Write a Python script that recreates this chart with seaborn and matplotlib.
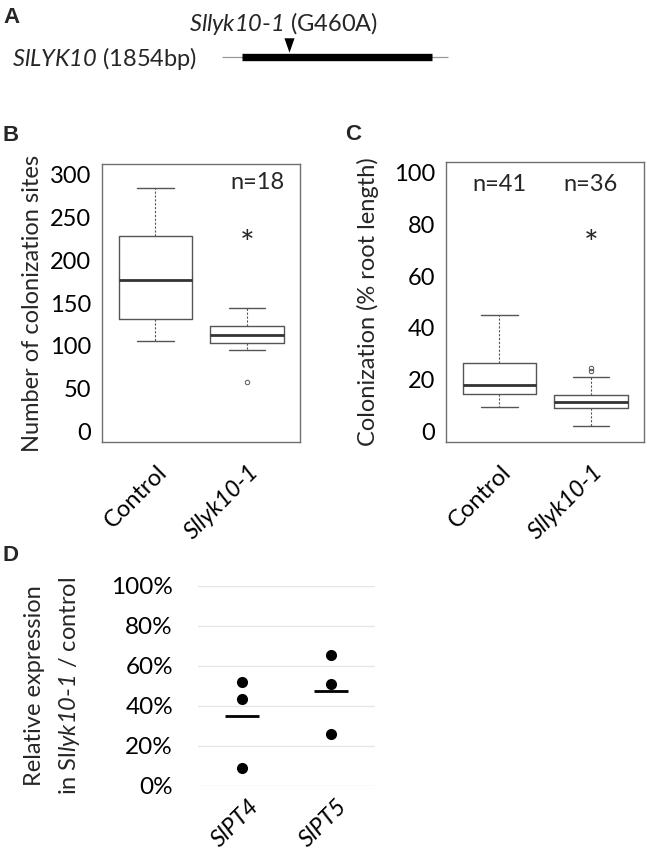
import numpy as np
import pandas as pd
import matplotlib
matplotlib.use("Agg")
import matplotlib.pyplot as plt
import matplotlib.transforms as mtrans
from matplotlib.path import Path
import seaborn as sns

# ---------------- data ----------------
# Panel A: gene model
gene_length_bp = 1854
mutation_pos_bp = 460
upstream_bp = 195
downstream_bp = 155

# Panel B: number of colonization sites
b_groups = ["Control", "Sllyk10-1"]
b_whislo = [105.7, 95.2]
b_q1 = [131.0, 103.0]
b_med = [176.8, 112.7]
b_q3 = [227.7, 123.5]
b_whishi = [283.7, 144.2]
b_fliers = [[], [58.0]]
b_n_label = "n=18"
b_yticks = [0, 50, 100, 150, 200, 250, 300]

# Panel C: colonization (% root length)
c_groups = ["Control", "Sllyk10-1"]
c_whislo = [9.4, 2.1]
c_q1 = [14.4, 8.9]
c_med = [18.1, 11.5]
c_q3 = [26.6, 14.2]
c_whishi = [45.0, 21.2]
c_fliers = [[], [23.3, 24.3]]
c_n_labels = ["n=41", "n=36"]
c_yticks = [0, 20, 40, 60, 80, 100]

# Panel D: relative expression
d_genes = ["SlPT4", "SlPT5"]
d_slpt4 = [0.52, 0.432, 0.087]
d_slpt5 = [0.653, 0.508, 0.257]
d_yticks = [0.0, 0.2, 0.4, 0.6, 0.8, 1.0]
d_yticklabels = ["0%", "20%", "40%", "60%", "80%", "100%"]

# ---------------- style ----------------
sns.set_style("white")
plt.rcParams["font.family"] = ["Lato", "DejaVu Sans"]
plt.rcParams["mathtext.fontset"] = "custom"
plt.rcParams["mathtext.rm"] = "Lato:italic"
plt.rcParams["mathtext.it"] = "Lato:italic"
plt.rcParams["mathtext.bf"] = "Lato:bold"

W, H = 647, 855
fig = plt.figure(figsize=(W / 100, H / 100), dpi=100)
fig.patch.set_facecolor("white")


def rect(l, t, r, b):
    return [l / W, 1 - b / H, (r - l) / W, (b - t) / H]


def fx(px):
    return px / W


def fy(py):
    return 1 - py / H


FS = 17
BOXC = "#555555"
FRAME = "#707070"
letter_kw = dict(fontsize=16, fontweight="bold", family=["Liberation Sans", "DejaVu Sans"], va="baseline")

# ---------------- Panel A ----------------
fig.text(fx(3), fy(23), "A", **letter_kw)
fig.text(fx(284), fy(31), r"$Sllyk10$-$1$ (G460A)", fontsize=FS, ha="center", va="baseline")
fig.text(fx(12), fy(66), r"$SlLYK10$ (1854bp)", fontsize=FS, ha="left", va="baseline")

axA = fig.add_axes(rect(200, 37, 470, 77))
scale = (432.3 - 241.7) / gene_length_bp
axA.set_xlim((200 - 241.7) / scale, (470 - 241.7) / scale)
axA.set_ylim(0, 1)
axA.axis("off")
axA.hlines(0.5, -upstream_bp, gene_length_bp + downstream_bp, color="#999999", lw=0.9)
axA.hlines(0.5, 0, gene_length_bp, color="black", lw=5.3, capstyle="butt")
tri = Path([(-0.7, 1), (0.7, 1), (0, -1), (-0.7, 1)], [1, 2, 2, 79])
axA.scatter([mutation_pos_bp], [0.79], marker=tri, s=10.4 ** 2, color="black", linewidths=0)


# ---------------- Box panels ----------------
def box_panel(ax, groups, lo, q1, med, q3, hi, fliers):
    stats = [dict(whislo=a, q1=b, med=c, q3=d, whishi=e, fliers=f)
             for a, b, c, d, e, f in zip(lo, q1, med, q3, hi, fliers)]
    ax.bxp(stats, positions=[0, 1], widths=0.8, showfliers=True, manage_ticks=False,
           boxprops=dict(color=BOXC, lw=1.0),
           medianprops=dict(color="#333333", lw=2.0, solid_capstyle="butt"),
           whiskerprops=dict(color=BOXC, lw=0.8, linestyle=(0, (2, 1.5))),
           capprops=dict(color=BOXC, lw=1.0),
           flierprops=dict(marker="o", markersize=3.2, markerfacecolor="none",
                           markeredgecolor=BOXC, markeredgewidth=0.7))
    ax.set_xlim(-0.58, 1.58)
    ax.set_xticks([0, 1])
    ax.set_xticklabels(groups, rotation=45, ha="right", va="top", rotation_mode="anchor")
    ax.get_xticklabels()[1].set_fontstyle("italic")
    ax.tick_params(axis="both", direction="out", length=4, width=0.8, color=FRAME,
                   labelsize=FS, labelcolor="black")
    ax.tick_params(axis="x", pad=10)
    ax.tick_params(axis="y", pad=4)
    off = mtrans.ScaledTranslation(1 / 100, 0, fig.dpi_scale_trans)
    for lbl in ax.get_xticklabels():
        lbl.set_transform(lbl.get_transform() + off)
    for s in ax.spines.values():
        s.set_visible(True)
        s.set_color(FRAME)
        s.set_linewidth(1.0)


fig.text(fx(3), fy(141), "B", **letter_kw)
axB = fig.add_axes(rect(102, 164, 300, 442))
box_panel(axB, b_groups, b_whislo, b_q1, b_med, b_q3, b_whishi, b_fliers)
axB.set_ylim(-12, 312)
axB.set_yticks(b_yticks)
axB.set_ylabel("Number of colonization sites", fontsize=FS)
axB.yaxis.set_label_coords((43 - 102) / 198, 0.5)
axB.text(1.12, 290, b_n_label, fontsize=FS, ha="center", va="center")
axB.text(1.0, 218, "*", fontsize=25, ha="center", va="center")

fig.text(fx(345), fy(140), "C", **letter_kw)
axC = fig.add_axes(rect(446, 162.3, 644.3, 441.7))
box_panel(axC, c_groups, c_whislo, c_q1, c_med, c_q3, c_whishi, c_fliers)
axC.set_ylim(-4, 104)
axC.set_yticks(c_yticks)
axC.set_ylabel("Colonization (% root length)", fontsize=FS)
axC.yaxis.set_label_coords((379 - 446) / 198.3, 0.5)
for i, t in enumerate(c_n_labels):
    axC.text(i, 95.6, t, fontsize=FS, ha="center", va="center")
axC.text(1.0, 72.0, "*", fontsize=25, ha="center", va="center")

# ---------------- Panel D ----------------
fig.text(fx(3), fy(561), "D", **letter_kw)
axD = fig.add_axes(rect(198, 585.7, 375, 785.5))
d_df = pd.DataFrame({
    "gene": [d_genes[0]] * len(d_slpt4) + [d_genes[1]] * len(d_slpt5),
    "value": d_slpt4 + d_slpt5,
})
sns.stripplot(data=d_df, x="gene", y="value", order=d_genes, jitter=False,
              color="black", size=8, linewidth=0, ax=axD, zorder=3)
sns.pointplot(data=d_df, x="gene", y="value", order=d_genes, estimator="mean",
              errorbar=None, linestyle="none", marker="_", markersize=25,
              markeredgewidth=2, color="black", ax=axD, zorder=4)
axD.set_xlim(-0.5, 1.5)
axD.set_ylim(0, 1)
axD.set_yticks(d_yticks)
axD.set_yticklabels(d_yticklabels)
axD.set_xlabel("")
axD.set_ylabel("Relative expression\nin Sl$lyk10$-$1$ / control",
               fontsize=FS, linespacing=1.65)
axD.yaxis.set_label_coords((82 - 198) / 177, 0.5)
axD.yaxis.grid(True, color="#e6e6e6", lw=1)
axD.xaxis.grid(False)
axD.set_axisbelow(True)
for s in axD.spines.values():
    s.set_visible(False)
axD.tick_params(axis="both", length=0, labelsize=17.5, labelcolor="black")
axD.tick_params(axis="y", pad=18)
axD.tick_params(axis="x", pad=7)
axD.set_xticks([0, 1])
axD.set_xticklabels(d_genes, rotation=45, ha="right", va="top", rotation_mode="anchor",
                    fontstyle="italic", fontsize=17)
offD = mtrans.ScaledTranslation(6 / 100, 0, fig.dpi_scale_trans)
for lbl in axD.get_xticklabels():
    lbl.set_transform(lbl.get_transform() + offD)

fig.savefig("out.png", dpi=100, facecolor="white")
